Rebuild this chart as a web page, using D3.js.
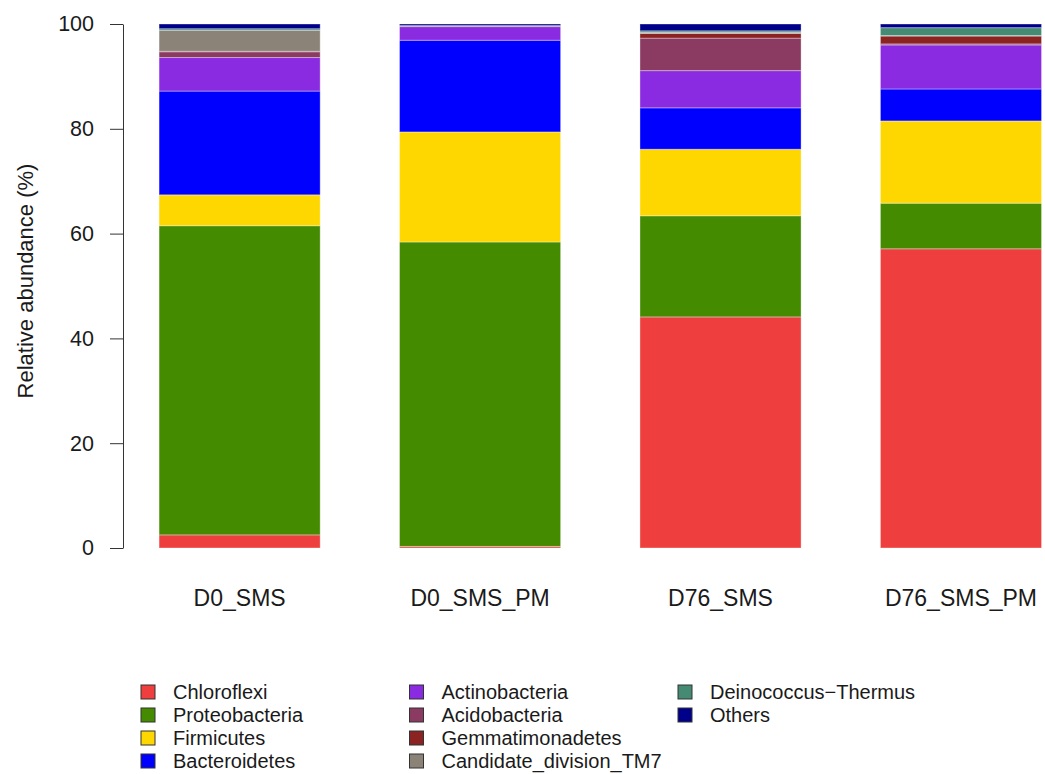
<!DOCTYPE html>
<html>
<head>
<meta charset="utf-8">
<script src="https://cdn.jsdelivr.net/npm/d3@7"></script>
<style>
  body { margin: 0; background: #fff; }
  text { font-family: "Liberation Sans", Arial, sans-serif; fill: #1a1a1a; }
</style>
</head>
<body>
<svg id="chart"></svg>
<script>
// samples along the x axis
const samples = ["D0_SMS", "D0_SMS_PM", "D76_SMS", "D76_SMS_PM"];
// phyla, stacked bottom to top
const phyla = ["Chloroflexi", "Proteobacteria", "Firmicutes", "Bacteroidetes", "Actinobacteria",
    "Acidobacteria", "Gemmatimonadetes", "Candidate_division_TM7", "Deinococcus\u2212Thermus", "Others"];
const phylumColors = ["#EE3E3E", "#458B00", "#FFD700", "#0000FF", "#8A2BE2",
    "#8B3A62", "#8B2323", "#8B8378", "#458B74", "#00008B"];

// relative abundance (%) per sample, in phyla order
const d0Sms = [2.5, 59.0, 5.9, 19.8, 6.4, 1.1, 0.1, 4.0, 0.3, 0.9];
const d0SmsPm = [0.3, 58.1, 21.0, 17.5, 2.6, 0.0, 0.0, 0.2, 0.0, 0.3];
const d76Sms = [44.1, 19.3, 12.7, 7.9, 7.1, 6.2, 0.9, 0.2, 0.3, 1.3];
const d76SmsPm = [57.1, 8.7, 15.7, 6.1, 8.4, 0.2, 1.5, 0.1, 1.5, 0.7];
const yTicks = [0, 20, 40, 60, 80, 100];

const width = 1045, height = 774;
const svg = d3.select("#chart").attr("width", width).attr("height", height);

const table = [d0Sms, d0SmsPm, d76Sms, d76SmsPm].map((vals, i) => {
    const row = { sample: samples[i] };
    phyla.forEach((p, j) => row[p] = vals[j]);
    return row;
});
const series = d3.stack().keys(phyla)(table);

const x = d3.scaleBand().domain(samples).range([119.4, 1081.2])
    .paddingInner(0.33).paddingOuter(0.165);
const y = d3.scaleLinear().domain([0, 100]).range([548, 24]);
const color = d3.scaleOrdinal().domain(phyla).range(phylumColors);

// bars
svg.append("g")
    .selectAll("g")
    .data(series)
    .join("g")
    .attr("fill", d => color(d.key))
    .selectAll("rect")
    .data(d => d)
    .join("rect")
    .attr("x", d => x(d.data.sample))
    .attr("y", d => y(d[1]))
    .attr("width", x.bandwidth())
    .attr("height", d => Math.max(0, y(d[0]) - y(d[1])))
    .attr("stroke", "rgba(255,255,255,0.35)")
    .attr("stroke-width", 1);

// y axis
const yAxis = svg.append("g")
    .attr("transform", "translate(123,0)")
    .call(d3.axisLeft(y).tickValues(yTicks).tickSize(13).tickSizeOuter(0).tickPadding(16));
yAxis.select(".domain").attr("stroke", "#333");
yAxis.selectAll(".tick line").attr("stroke", "#333");
yAxis.selectAll(".tick text")
    .style("font-family", "'Liberation Sans', Arial, sans-serif")
    .style("font-size", "21.5px")
    .attr("fill", "#1a1a1a");

svg.append("text")
    .attr("transform", "translate(33,281) rotate(-90)")
    .attr("text-anchor", "middle")
    .style("font-size", "22px")
    .text("Relative abundance (%)");

// sample labels
svg.append("g")
    .selectAll("text")
    .data(samples)
    .join("text")
    .attr("x", d => x(d) + x.bandwidth() / 2)
    .attr("y", 606)
    .attr("text-anchor", "middle")
    .style("font-size", "23px")
    .text(d => d);

// legend, filled column by column (4 rows)
const legend = svg.append("g")
    .selectAll("g")
    .data(phyla)
    .join("g")
    .attr("transform", (d, i) => `translate(${141 + Math.floor(i / 4) * 268.5},${692 + (i % 4) * 23})`);
legend.append("rect")
    .attr("x", 0).attr("y", -7)
    .attr("width", 14).attr("height", 14)
    .attr("fill", d => color(d))
    .attr("stroke", "#333")
    .attr("stroke-width", 1);
legend.append("text")
    .attr("x", 32).attr("y", 0)
    .attr("dy", "0.35em")
    .style("font-size", "20px")
    .text(d => d);
</script>
</body>
</html>
